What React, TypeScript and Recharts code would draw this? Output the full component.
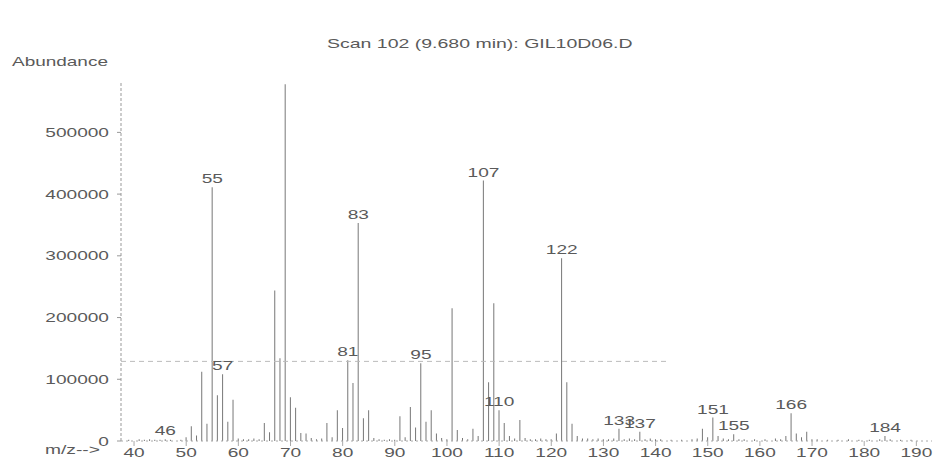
import React from "react";
import { ComposedChart, Bar, Scatter, XAxis, YAxis, ReferenceLine } from "recharts";

const title = "Scan 102 (9.680 min): GIL10D06.D";
const yTitle = "Abundance";
const xTitle = "m/z-->";

const mz = [
  39, 41, 42, 43, 44, 45, 46, 47, 49, 50, 51, 52, 53, 54, 55, 56, 57, 58, 59, 60,
  61, 62, 63, 64, 65, 66, 67, 68, 69, 70, 71, 72, 73, 74, 75, 76, 77, 78, 79, 80,
  81, 82, 83, 84, 85, 86, 87, 88, 89, 90, 91, 92, 93, 94, 95, 96, 97, 98, 99, 100,
  101, 102, 103, 104, 105, 106, 107, 108, 109, 110, 111, 112, 113, 114, 115, 116, 117, 118, 119, 120,
  121, 122, 123, 124, 125, 126, 127, 128, 129, 130, 131, 132, 133, 134, 135, 136, 137, 138, 139, 140,
  141, 143, 145, 147, 148, 149, 150, 151, 152, 153, 154, 155, 156, 157, 159, 161, 163, 164, 165, 166,
  167, 168, 169, 170, 171, 173, 175, 177, 179, 181, 183, 184, 185, 187, 189,
];
const abundance = [
  2000, 3000, 2000, 3000, 2000, 2000, 3000, 2000, 2000, 6000, 24000, 9000, 112000, 28000, 411000, 74000, 108000, 31000, 67000, 4000,
  3000, 3000, 4000, 3000, 29000, 14000, 244000, 134000, 578000, 71000, 54000, 13000, 12000, 5000, 3000, 4000, 29000, 6000, 50000, 21000,
  131000, 94000, 353000, 37000, 50000, 5000, 3000, 2000, 3000, 2000, 40000, 6000, 55000, 22000, 126000, 31000, 50000, 12000, 5000, 3000,
  215000, 18000, 5000, 3000, 20000, 8000, 422000, 95000, 223000, 50000, 29000, 8000, 4000, 34000, 5000, 3000, 3000, 4000, 3000, 3000,
  12000, 296000, 95000, 28000, 8000, 4000, 4000, 3000, 4000, 3000, 3000, 4000, 20000, 3000, 4000, 3000, 15000, 3000, 4000, 3000,
  3000, 2000, 2000, 3000, 4000, 20000, 6000, 38000, 8000, 4000, 3000, 11000, 3000, 3000, 3000, 3000, 4000, 3000, 8000, 45000,
  12000, 6000, 15000, 3000, 3000, 2000, 2000, 3000, 2000, 2000, 3000, 8000, 3000, 2000, 2000,
];
const labeledPeaks = [46, 55, 57, 69, 81, 83, 95, 107, 110, 122, 133, 137, 151, 155, 166, 184];
const yTicks = [0, 100000, 200000, 300000, 400000, 500000];
const xTicks = [40, 50, 60, 70, 80, 90, 100, 110, 120, 130, 140, 150, 160, 170, 180, 190];
const thresholdLevel = 129000;
const thresholdEnd = 142;

const data = mz.map((m, i) => ({ mz: m, ab: abundance[i] }));
const labelData = data.filter((d) => labeledPeaks.includes(d.mz));

const FONT = "'Liberation Sans', Arial, sans-serif";
const TEXT = "#5a5a5a";
const SX = 1.47;

function StretchText({ x, y, anchor = "start", scale = SX, children }: any) {
  return (
    <g transform={`translate(${x} ${y}) scale(${scale} 1)`}>
      <text x={0} y={0} textAnchor={anchor} fontFamily={FONT} fontSize={13} fill={TEXT}>
        {children}
      </text>
    </g>
  );
}

const YTick = (p: any) => (
  <StretchText x={p.x} y={p.y + 4.5} anchor="end">
    {p.payload.value}
  </StretchText>
);

const XTick = (p: any) => (
  <StretchText x={p.x} y={p.y + 9.5} anchor="middle">
    {p.payload.value}
  </StretchText>
);

const PeakLabel = (p: any) => {
  if (p.cx == null || p.cy == null) return null;
  return (
    <StretchText x={p.cx} y={p.cy - 4} anchor="middle">
      {p.payload.mz}
    </StretchText>
  );
};

export default function App() {
  return (
    <div style={{ position: "absolute", left: 0, top: 0, width: 940, height: 460, background: "#fff" }}>
      <ComposedChart
        width={940}
        height={460}
        data={data}
        margin={{ top: 83, right: 8, bottom: 0, left: 0 }}
      >
        <XAxis
          type="number"
          dataKey="mz"
          domain={[37.5, 193]}
          ticks={xTicks}
          height={19}
          tickSize={5}
          tickMargin={1}
          axisLine={{ stroke: "#aaa", strokeDasharray: "2 3" }}
          tickLine={{ stroke: "#aaa" }}
          tick={<XTick />}
          allowDataOverflow
        />
        <YAxis
          type="number"
          domain={[0, 580000]}
          ticks={yTicks}
          width={121}
          tickSize={4}
          tickMargin={8}
          axisLine={{ stroke: "#999", strokeDasharray: "3 2" }}
          tickLine={{ stroke: "#999" }}
          tick={<YTick />}
          allowDataOverflow
        />
        <ReferenceLine
          segment={[
            { x: 37.5, y: thresholdLevel },
            { x: thresholdEnd, y: thresholdLevel },
          ]}
          stroke="#bbb"
          strokeDasharray="5 4"
        />
        <Bar dataKey="ab" barSize={1} fill="#777" isAnimationActive={false} />
        <Scatter data={labelData} dataKey="ab" shape={<PeakLabel />} isAnimationActive={false} />
        <text x={12} y={65.5} />
      </ComposedChart>
      <svg width={940} height={460} style={{ position: "absolute", left: 0, top: 0, pointerEvents: "none" }}>
        <StretchText x={327} y={48} scale={1.5}>{title}</StretchText>
        <StretchText x={12} y={65.5} scale={1.46}>{yTitle}</StretchText>
        <StretchText x={45} y={454} scale={1.48}>{xTitle}</StretchText>
      </svg>
    </div>
  );
}
